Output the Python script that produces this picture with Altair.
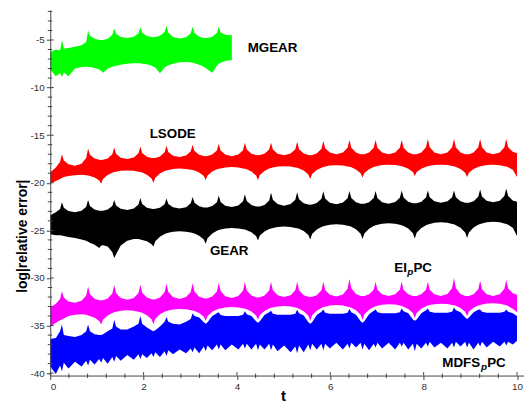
import altair as alt
import pandas as pd

T = [0, 0.12, 0.21,
     0.25, 0.29, 0.39, 0.53, 0.67, 0.77,
     0.81, 0.85, 0.95, 1.05, 1.09, 1.13, 1.23, 1.33,
     1.37, 1.41, 1.51, 1.65, 1.79, 1.89,
     1.93, 1.97, 2.07, 2.17, 2.21, 2.25, 2.35, 2.45,
     2.49, 2.53, 2.63, 2.77, 2.91, 3.01,
     3.05, 3.09, 3.19, 3.29, 3.33, 3.37, 3.47, 3.57,
     3.61, 3.65, 3.75, 3.89, 4.03, 4.13,
     4.17, 4.21, 4.31, 4.41, 4.45, 4.49, 4.59, 4.69,
     4.73, 4.77, 4.87, 5.01, 5.15, 5.25,
     5.29, 5.33, 5.43, 5.53, 5.57, 5.61, 5.71, 5.81,
     5.85, 5.89, 5.99, 6.13, 6.27, 6.37,
     6.41, 6.45, 6.55, 6.65, 6.69, 6.73, 6.83, 6.93,
     6.97, 7.01, 7.11, 7.25, 7.39, 7.49,
     7.53, 7.57, 7.67, 7.77, 7.81, 7.85, 7.95, 8.05,
     8.09, 8.13, 8.23, 8.37, 8.51, 8.61,
     8.65, 8.69, 8.79, 8.89, 8.93, 8.97, 9.07, 9.17,
     9.21, 9.25, 9.35, 9.49, 9.63, 9.73,
     9.77, 9.81, 9.91, 10.0]

# MGEAR (green) – ends near t = 3.9
GREEN_UP = [-6.3, -6.0, -6.1,
            -5.0, -5.9, -5.85, -5.7, -5.55, -5.2,
            -4.0, -4.55, -4.88, -4.99, -5.0, -4.99, -4.86, -4.46,
            -3.8, -4.35, -4.68, -4.8, -4.66, -4.29,
            -3.65, -4.23, -4.57, -4.69, -4.7, -4.69, -4.56, -4.16,
            -3.5, -4.24, -4.69, -4.85, -4.7, -4.29,
            -3.6, -4.26, -4.66, -4.79, -4.8, -4.79, -4.66, -4.26,
            -3.6, -4.2, -4.45, -4.5]
GREEN_LO = [-8.1, -8.8, -8.5,
            -8.9, -8.4, -8.8, -8.0, -7.85, -7.8,
            -7.85, -7.85, -7.95, -8.1, -8.25, -8.45, -8.0, -7.8,
            -7.75, -7.7, -7.6, -7.5, -7.45, -7.45,
            -7.45, -7.5, -7.55, -7.7, -7.8, -7.9, -8.5, -7.9,
            -7.75, -7.65, -7.5, -7.35, -7.3, -7.35,
            -7.4, -7.45, -7.6, -7.8, -7.95, -8.1, -8.45, -7.7,
            -7.5, -7.4, -7.2, -7.1]

# LSODE (red)
RED_UP = [-18.9, -18.4, -17.8,
          -17.0, -17.65, -18.05, -18.2, -18.0, -17.4,
          -16.4, -17.06, -17.46, -17.59, -17.6, -17.59, -17.44, -17.0,
          -16.3, -16.96, -17.36, -17.5, -17.34, -16.9,
          -16.2, -16.86, -17.26, -17.39, -17.4, -17.39, -17.24, -16.8,
          -16.1, -16.76, -17.16, -17.3, -17.14, -16.7,
          -16.0, -16.66, -17.06, -17.19, -17.2, -17.19, -17.04, -16.6,
          -15.9, -16.6, -17.04, -17.2, -17.03, -16.57,
          -15.8, -16.5, -16.94, -17.09, -17.1, -17.09, -16.94, -16.5,
          -15.8, -16.5, -16.94, -17.1, -16.93, -16.47,
          -15.7, -16.47, -16.93, -17.09, -17.1, -17.09, -16.92, -16.43,
          -15.6, -16.37, -16.83, -17.0, -16.82, -16.33,
          -15.5, -16.33, -16.82, -16.99, -17.0, -16.99, -16.82, -16.33,
          -15.5, -16.33, -16.82, -17.0, -16.82, -16.33,
          -15.5, -16.33, -16.82, -16.99, -17.0, -16.99, -16.81, -16.28,
          -15.4, -16.28, -16.81, -17.0, -16.81, -16.28,
          -15.4, -16.28, -16.81, -16.99, -17.0, -16.99, -16.81, -16.28,
          -15.4, -16.28, -16.81, -17.0, -16.81, -16.28,
          -15.4, -16.28, -16.75, -16.9]
RED_LO = [-20.1, -19.8, -19.6,
          -19.5, -19.4, -19.3, -19.2, -19.15, -19.2,
          -19.23, -19.28, -19.45, -19.75, -20.1, -19.61, -19.19, -18.95,
          -18.88, -18.84, -18.74, -18.7, -18.74, -18.83,
          -18.87, -18.93, -19.16, -19.55, -20.0, -19.48, -19.03, -18.77,
          -18.7, -18.65, -18.55, -18.5, -18.54, -18.62,
          -18.66, -18.72, -18.92, -19.28, -19.7, -19.23, -18.82, -18.59,
          -18.53, -18.49, -18.39, -18.35, -18.39, -18.49,
          -18.53, -18.59, -18.82, -19.23, -19.7, -19.19, -18.76, -18.51,
          -18.44, -18.4, -18.29, -18.25, -18.29, -18.39,
          -18.43, -18.49, -18.72, -19.13, -19.6, -19.09, -18.66, -18.41,
          -18.34, -18.3, -18.19, -18.15, -18.19, -18.28,
          -18.32, -18.38, -18.6, -19.0, -19.45, -18.98, -18.57, -18.34,
          -18.28, -18.24, -18.14, -18.1, -18.14, -18.22,
          -18.26, -18.32, -18.52, -18.88, -19.3, -18.88, -18.52, -18.32,
          -18.26, -18.22, -18.14, -18.1, -18.14, -18.23,
          -18.27, -18.33, -18.56, -18.95, -19.4, -18.95, -18.56, -18.33,
          -18.27, -18.23, -18.14, -18.1, -18.15, -18.25,
          -18.3, -18.37, -18.63, -19.4]

# GEAR (black)
BLACK_UP = [-23.4, -23.1, -22.75,
            -22.05, -22.63, -22.97, -23.1, -22.94, -22.52,
            -21.8, -22.43, -22.81, -22.94, -22.95, -22.94, -22.81, -22.43,
            -21.8, -22.38, -22.72, -22.85, -22.7, -22.29,
            -21.6, -22.23, -22.61, -22.74, -22.75, -22.74, -22.62, -22.25,
            -21.65, -22.23, -22.57, -22.7, -22.56, -22.16,
            -21.5, -22.1, -22.47, -22.59, -22.6, -22.59, -22.45, -22.04,
            -21.35, -22.01, -22.41, -22.55, -22.39, -21.94,
            -21.2, -21.92, -22.34, -22.49, -22.5, -22.49, -22.33, -21.85,
            -21.05, -21.79, -22.24, -22.4, -22.23, -21.77,
            -21.0, -21.72, -22.14, -22.29, -22.3, -22.29, -22.13, -21.67,
            -20.9, -21.64, -22.09, -22.25, -22.08, -21.62,
            -20.85, -21.59, -22.04, -22.19, -22.2, -22.19, -22.04, -21.59,
            -20.85, -21.59, -22.04, -22.2, -22.03, -21.57,
            -20.8, -21.54, -21.99, -22.14, -22.15, -22.14, -21.99, -21.54,
            -20.8, -21.52, -21.94, -22.1, -21.94, -21.52,
            -20.8, -21.52, -21.94, -22.09, -22.1, -22.09, -21.93, -21.47,
            -20.7, -21.44, -21.89, -22.05, -21.88, -21.4,
            -20.6, -21.4, -21.85, -22.0]
BLACK_LO = [-25.4, -25.5, -25.5,
            -25.55, -25.6, -25.7, -25.8, -25.95, -26.1,
            -26.2, -26.3, -26.5, -26.85, -26.6, -26.55, -26.7, -27.3,
            -27.9, -27.5, -26.6, -26.1, -25.9, -25.9,
            -25.95, -26.0, -26.15, -26.45, -26.7, -26.14, -25.66, -25.39,
            -25.31, -25.26, -25.15, -25.1, -25.14, -25.23,
            -25.27, -25.33, -25.56, -25.95, -26.4, -25.82, -25.33, -25.05,
            -24.96, -24.92, -24.8, -24.75, -24.79, -24.88,
            -24.92, -24.98, -25.2, -25.6, -26.05, -25.54, -25.11, -24.86,
            -24.79, -24.75, -24.64, -24.6, -24.64, -24.74,
            -24.78, -24.84, -25.07, -25.48, -25.95, -25.39, -24.91, -24.64,
            -24.56, -24.51, -24.4, -24.35, -24.4, -24.51,
            -24.55, -24.63, -24.89, -25.36, -25.9, -25.32, -24.83, -24.55,
            -24.46, -24.42, -24.3, -24.25, -24.3, -24.41,
            -24.46, -24.54, -24.81, -25.29, -25.85, -25.26, -24.75, -24.46,
            -24.37, -24.32, -24.2, -24.15, -24.2, -24.32,
            -24.36, -24.45, -24.73, -25.22, -25.8, -25.21, -24.7, -24.41,
            -24.32, -24.27, -24.15, -24.1, -24.15, -24.28,
            -24.33, -24.42, -24.73, -25.6]

# EIpPC (magenta)
MAG_UP = [-33.1, -32.7, -32.2,
          -31.4, -32.06, -32.46, -32.6, -32.4, -31.84,
          -30.9, -31.7, -32.18, -32.34, -32.35, -32.34, -32.16, -31.63,
          -30.75, -31.6, -32.11, -32.3, -32.11, -31.58,
          -30.7, -31.55, -32.06, -32.24, -32.25, -32.24, -32.05, -31.51,
          -30.6, -31.48, -32.01, -32.2, -32.0, -31.46,
          -30.55, -31.43, -31.96, -32.14, -32.15, -32.14, -31.95, -31.41,
          -30.5, -31.38, -31.91, -32.1, -31.9, -31.34,
          -30.4, -31.31, -31.85, -32.03, -32.05, -32.03, -31.85, -31.31,
          -30.4, -31.28, -31.81, -32.0, -31.81, -31.28,
          -30.4, -31.28, -31.81, -31.98, -32.0, -31.98, -31.81, -31.28,
          -30.4, -31.25, -31.76, -31.95, -31.73, -31.12,
          -30.1, -31.09, -31.68, -31.88, -31.9, -31.88, -31.72, -31.23,
          -30.4, -31.23, -31.72, -31.9, -31.72, -31.23,
          -30.4, -31.23, -31.72, -31.88, -31.9, -31.88, -31.72, -31.23,
          -30.4, -31.23, -31.72, -31.9, -31.67, -31.05,
          -30.0, -31.05, -31.67, -31.88, -31.9, -31.88, -31.71, -31.18,
          -30.3, -31.18, -31.71, -31.9, -31.7, -31.14,
          -30.2, -31.1, -31.6, -31.75]
MAG_LO = [-35.1, -34.7, -34.45,
          -34.35, -34.25, -34.0, -33.85, -33.8, -33.85,
          -33.94, -34.0, -34.19, -34.52, -34.9, -34.38, -33.93, -33.67,
          -33.6, -33.55, -33.45, -33.4, -33.44, -33.55,
          -33.59, -33.66, -33.91, -34.34, -34.85, -34.29, -33.81, -33.54,
          -33.46, -33.41, -33.3, -33.25, -33.29, -33.38,
          -33.41, -33.48, -33.69, -34.06, -34.5, -33.99, -33.56, -33.31,
          -33.24, -33.2, -33.09, -33.05, -33.09, -33.19,
          -33.23, -33.29, -33.52, -33.93, -34.4, -33.89, -33.46, -33.21,
          -33.14, -33.1, -32.99, -32.95, -33.0, -33.11,
          -33.15, -33.23, -33.49, -33.96, -34.5, -33.92, -33.43, -33.15,
          -33.06, -33.02, -32.9, -32.85, -32.9, -33.01,
          -33.05, -33.13, -33.39, -33.86, -34.4, -33.82, -33.33, -33.05,
          -32.96, -32.92, -32.8, -32.75, -32.79, -32.9,
          -32.94, -33.01, -33.26, -33.69, -34.2, -33.68, -33.23, -32.97,
          -32.9, -32.85, -32.75, -32.7, -32.74, -32.83,
          -32.87, -32.93, -33.16, -33.55, -34.0, -33.53, -33.12, -32.89,
          -32.83, -32.79, -32.69, -32.65, -32.7, -32.82,
          -32.86, -32.95, -33.23, -33.6]

# MDFSpPC (blue)
BLUE_UP = [-36.4, -36.3, -35.6,
           -34.9, -36.0, -36.1, -36.2, -36.0, -35.6,
           -34.9, -35.6, -35.9, -36.0, -36.0, -35.9, -35.6, -35.3,
           -34.4, -35.1, -35.4, -35.4, -35.1, -34.8,
           -34.0, -34.8, -35.2, -35.5, -35.6, -35.5, -35.1, -34.6,
           -34.1, -34.6, -34.8, -34.9, -34.6, -34.3,
           -33.7, -34.0, -34.15, -34.65, -34.8, -34.65, -34.0, -33.7,
           -33.6, -33.9, -34.0, -34.0, -34.0, -33.85,
           -33.5, -33.8, -34.0, -34.55, -34.7, -34.55, -33.9, -33.6,
           -33.45, -33.75, -33.85, -33.85, -33.85, -33.75,
           -33.35, -33.7, -33.95, -34.65, -34.8, -34.65, -33.9, -33.55,
           -33.3, -33.65, -33.75, -33.75, -33.75, -33.65,
           -33.25, -33.6, -33.85, -34.55, -34.7, -34.55, -33.8, -33.45,
           -33.3, -33.6, -33.7, -33.7, -33.7, -33.6,
           -33.2, -33.5, -33.7, -34.35, -34.5, -34.35, -33.7, -33.4,
           -33.2, -33.55, -33.65, -33.65, -33.65, -33.55,
           -33.1, -33.4, -33.6, -34.15, -34.3, -34.15, -33.6, -33.35,
           -33.3, -33.55, -33.65, -33.65, -33.65, -33.55,
           -33.3, -33.55, -33.7, -34.0]
BLUE_LO = [-39.3, -40.1, -39.2,
           -39.8, -38.9, -39.5, -38.8, -39.3, -38.7,
           -39.2, -38.6, -39.1, -38.5, -38.9, -38.4, -39.0, -38.3,
           -38.8, -38.2, -38.7, -38.1, -38.6, -38.0,
           -38.5, -38.0, -38.4, -37.9, -38.3, -37.8, -38.3, -37.7,
           -38.2, -37.6, -38.0, -37.5, -37.9, -37.4,
           -37.8, -37.3, -37.9, -37.2, -37.7, -37.1, -37.6, -37.0,
           -37.5, -37.0, -37.6, -37.0, -37.5, -36.9,
           -37.4, -36.9, -37.5, -36.9, -37.6, -37.0, -37.5, -36.9,
           -37.6, -37.0, -37.7, -37.1, -37.8, -37.2,
           -37.9, -37.1, -37.8, -37.0, -37.6, -36.9, -37.5, -36.9,
           -37.6, -36.9, -37.4, -36.8, -37.5, -36.9,
           -37.4, -36.8, -37.3, -36.8, -37.5, -36.9, -37.6, -36.9,
           -37.3, -36.8, -37.4, -36.8, -37.5, -36.8,
           -37.2, -36.8, -37.5, -36.9, -37.7, -36.9, -37.4, -36.8,
           -37.2, -36.7, -37.3, -36.8, -37.4, -36.8,
           -37.3, -36.7, -37.2, -36.7, -37.3, -36.8, -37.5, -36.8,
           -37.2, -36.7, -37.3, -36.7, -37.2, -36.7,
           -37.1, -36.7, -37.0, -36.6]

SERIES = ["MGEAR", "LSODE", "GEAR", "EIpPC", "MDFSpPC"]
COLORS = ["#00ff00", "#ff0000", "#000000", "#ff00ff", "#0000ff"]
UPPERS = [GREEN_UP, RED_UP, BLACK_UP, MAG_UP, BLUE_UP]
LOWERS = [GREEN_LO, RED_LO, BLACK_LO, MAG_LO, BLUE_LO]

# axis ticks
X_TICKS = [0, 2, 4, 6, 8, 10]
X_MINOR = [0.4, 0.8, 1.2, 1.6, 2.4, 2.8, 3.2, 3.6, 4.4, 4.8, 5.2, 5.6,
           6.4, 6.8, 7.2, 7.6, 8.4, 8.8, 9.2, 9.6]
Y_TICKS = [-40, -35, -30, -25, -20, -15, -10, -5]
Y_MINOR = [-39, -38, -37, -36, -34, -33, -32, -31, -29, -28, -27, -26,
           -24, -23, -22, -21, -19, -18, -17, -16, -14, -13, -12, -11,
           -9, -8, -7, -6, -4, -3, -2]

# series labels (main text pieces and italic subscripts)
LABEL_TEXT = ["MGEAR", "LSODE", "GEAR", "EI", "PC", "MDFS", "PC"]
LABEL_T = [4.23, 2.13, 3.42, 7.37, 7.78, 8.40, 9.36]
LABEL_V = [-5.85, -14.85, -27.12, -28.99, -28.99, -38.97, -38.97]
SUB_TEXT = ["p", "p"]
SUB_T = [7.65, 9.23]
SUB_V = [-29.4, -39.38]

X_DOMAIN = [0, 10.15]
Y_DOMAIN = [-40.25, -1.85]
W = 478.6
H = 369.3
AX = "#444444"
FONT = "Liberation Sans"

rows = []
for name, up, lo in zip(SERIES, UPPERS, LOWERS):
    for t, u, l in zip(T, up, lo):
        rows.append({"series": name, "t": t, "up": u, "lo": l})
band_df = pd.DataFrame(rows)

xs = alt.Scale(domain=X_DOMAIN, nice=False, zero=False)
ys = alt.Scale(domain=Y_DOMAIN, nice=False, zero=False)

x_axis = alt.Axis(values=X_TICKS, labelExpr="datum.value + ''", title="t",
                  tickSize=4, tickColor=AX, domainColor=AX, labelColor="#333333",
                  labelFontSize=10, labelPadding=2, titleFontSize=15,
                  titleFontWeight="bold", titleColor="#000000",
                  titleX=235, titleY=20, titleBaseline="middle",
                  grid=False, zindex=1)
y_axis = alt.Axis(values=Y_TICKS, labelExpr="datum.value + ''",
                  title="log|relative error|", tickSize=4, tickColor=AX,
                  domainColor=AX, labelColor="#333333", labelFontSize=10,
                  labelPadding=2, titleFontSize=14, titleFontWeight="bold",
                  titleColor="#000000", titleX=-28, titleY=228,
                  titleBaseline="middle", grid=False, zindex=1)


def X(field):
    return alt.X(field, scale=xs, axis=x_axis)


def Y(field):
    return alt.Y(field, scale=ys, axis=y_axis)


bands = alt.Chart(band_df).mark_area(interpolate="linear", opacity=1).encode(
    x=X("t:Q"),
    y=Y("up:Q"),
    y2="lo:Q",
    color=alt.Color("series:N", scale=alt.Scale(domain=SERIES, range=COLORS), legend=None),
)

ymin_df = pd.DataFrame({"up": Y_MINOR})
ymaj_df = pd.DataFrame({"up": Y_TICKS})
xmin_df = pd.DataFrame({"t": X_MINOR})
xmaj_df = pd.DataFrame({"t": X_TICKS})

y_minor = alt.Chart(ymin_df).mark_rule(color=AX, strokeWidth=1).encode(
    y=Y("up:Q"), x=alt.value(-2.5), x2=alt.value(2))
y_major_in = alt.Chart(ymaj_df).mark_rule(color=AX, strokeWidth=1).encode(
    y=Y("up:Q"), x=alt.value(0), x2=alt.value(3.5))
x_minor = alt.Chart(xmin_df).mark_rule(color=AX, strokeWidth=1).encode(
    x=X("t:Q"), y=alt.value(H - 2), y2=alt.value(H + 2.5))
x_major_in = alt.Chart(xmaj_df).mark_rule(color=AX, strokeWidth=1).encode(
    x=X("t:Q"), y=alt.value(H - 3.5), y2=alt.value(H))

lab_df = pd.DataFrame({"text": LABEL_TEXT, "t": LABEL_T, "up": LABEL_V})
sub_df = pd.DataFrame({"text": SUB_TEXT, "t": SUB_T, "up": SUB_V})

labels = alt.Chart(lab_df).mark_text(font=FONT, fontSize=13.5, fontWeight="bold",
                                     align="left", baseline="middle", color="#000000").encode(
    x=X("t:Q"), y=Y("up:Q"), text="text:N")
subs = alt.Chart(sub_df).mark_text(font=FONT, fontSize=10, fontWeight="bold", fontStyle="italic",
                                   align="left", baseline="middle", color="#000000").encode(
    x=X("t:Q"), y=Y("up:Q"), text="text:N")

chart = alt.layer(bands, y_minor, y_major_in, x_minor, x_major_in, labels, subs).properties(
    width=W, height=H,
    padding={"left": 42.7, "top": 0, "right": 0, "bottom": 26},
    autosize=alt.AutoSizeParams(type="none"),
    background="white",
).configure_view(stroke=None).configure_axis(labelFont=FONT, titleFont=FONT)

chart.save("out.html", embed_options={"renderer": "svg", "actions": False})
